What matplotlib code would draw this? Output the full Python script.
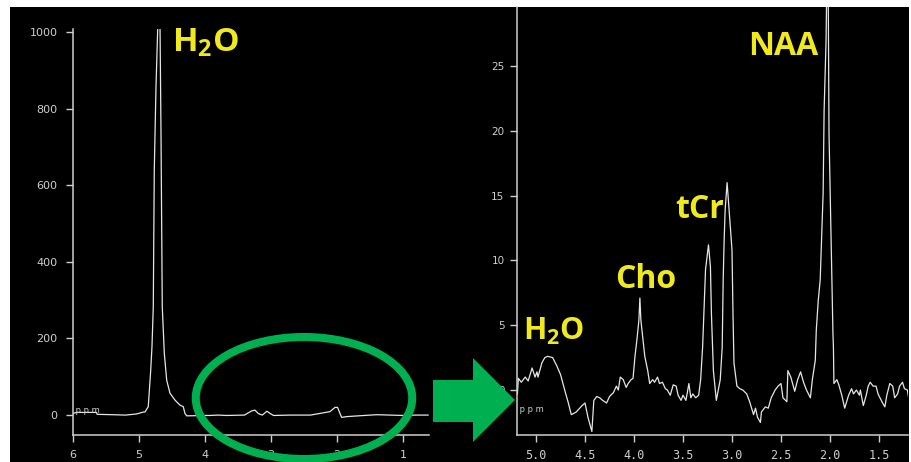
import numpy as np
import matplotlib.pyplot as plt
from matplotlib.patches import Rectangle, Ellipse, Polygon

W, H = 912, 462

# spettro completo (pannello sinistro)
ppm_full = [6.00, 5.94, 5.64, 5.63, 5.40, 5.20, 5.03, 4.93, 4.906, 4.856, 4.819, 4.800,
            4.780, 4.765, 4.739, 4.713, 4.678, 4.663, 4.644, 4.613, 4.577, 4.527, 4.451,
            4.376, 4.326, 4.300, 4.274, 4.00, 3.92, 3.80, 3.67, 3.40, 3.29, 3.24, 3.19,
            3.13, 3.06, 3.01, 2.96, 2.70, 2.40, 2.105, 2.03, 1.99, 1.953, 1.928, 1.852,
            1.677, 1.40, 1.20, 1.00, 0.80, 0.62]
int_full = [4, 7, 7, 2, 1, 0, 3, 8, 8, 22, 117, 178,
            283, 640, 857, 1010, 1014, 731, 283, 161, 91, 57, 39,
            26, 22, 4, -2, -1, -1, 0, -1, 0, 11, 13, 4,
            0, 10, 4, -1, 0, 0, 9, 20, 20, 4, -6, -4,
            -2, 1, 0, -1, 0, 0]

# zoom sui metaboliti (pannello destro)
ppm_zoom = [5.19, 5.18, 5.15, 5.11, 5.08, 5.04, 5.01, 4.99, 4.98, 4.94, 4.91, 4.88, 4.83,
            4.79, 4.75, 4.70, 4.67, 4.64, 4.59, 4.53, 4.50, 4.47, 4.43, 4.41, 4.38, 4.35,
            4.32, 4.28, 4.25, 4.21, 4.18, 4.16, 4.14, 4.11, 4.08, 4.06, 4.03, 4.01, 3.99,
            3.97, 3.95, 3.94, 3.93, 3.91, 3.89, 3.86, 3.84, 3.81, 3.79, 3.76, 3.74, 3.71,
            3.68, 3.66, 3.63, 3.60, 3.57, 3.55, 3.52, 3.50, 3.47, 3.44, 3.42, 3.40, 3.37,
            3.34, 3.32, 3.30, 3.28, 3.27, 3.25, 3.24, 3.22, 3.21, 3.19, 3.16, 3.12, 3.10,
            3.09, 3.08, 3.07, 3.05, 3.03, 3.00, 2.99, 2.98, 2.95, 2.92, 2.89, 2.85, 2.82,
            2.78, 2.76, 2.74, 2.71, 2.70, 2.66, 2.63, 2.60, 2.56, 2.53, 2.50, 2.48, 2.44,
            2.43, 2.40, 2.36, 2.33, 2.30, 2.27, 2.24, 2.20, 2.18, 2.15, 2.14, 2.12, 2.10,
            2.07, 2.06, 2.04, 2.03, 2.02, 2.01, 1.99, 1.97, 1.965, 1.96, 1.93, 1.91, 1.88,
            1.85, 1.81, 1.78, 1.76, 1.73, 1.70, 1.69, 1.66, 1.63, 1.61, 1.59, 1.56, 1.53,
            1.51, 1.47, 1.44, 1.42, 1.39, 1.36, 1.34, 1.31, 1.29, 1.26, 1.24, 1.21, 1.20]
int_zoom = [-0.3, 0.9, 0.6, 1.0, 0.7, 1.7, 1.0, 1.4, 1.0, 2.1, 2.5, 2.6, 2.5,
            1.9, 1.2, -0.2, -1.0, -1.9, -1.7, -1.2, -1.0, -2.1, -3.2, -0.8, -0.5, -0.6,
            -0.8, -1.0, -0.5, -0.2, 0.3, 0.0, 1.0, 0.8, 0.2, 0.5, 0.8, 0.9, 2.6,
            3.9, 5.4, 7.1, 5.4, 4.0, 2.6, 1.5, 0.5, 0.8, 0.6, 1.0, 0.5, 0.6,
            0.1, 0.0, -0.4, 0.4, 0.3, -0.4, -0.8, -0.4, -0.8, 0.5, -0.6, -0.3, -0.6,
            -0.4, 0.8, 3.3, 7.2, 9.3, 10.6, 11.2, 9.5, 5.9, 1.5, -0.8, 0.8, 3.3,
            8.5, 11.6, 13.9, 16.0, 13.9, 10.8, 5.9, 2.1, 0.3, 0.1, 0.0, -0.3, -0.9,
            -1.9, -1.4, -2.1, -2.5, -1.7, -1.3, -1.4, -0.6, 0.0, 0.3, 0.5, -0.6, -0.9,
            1.5, 1.0, -0.1, 0.8, 1.4, 0.6, 0.0, -0.6, 0.8, 2.3, 4.6, 6.9, 8.5,
            15.2, 21.6, 27.0, 33.0, 33.0, 19.8, 12.1, 4.4, 3.3, 0.5, 0.8, 0.4, -0.4,
            -1.4, -0.4, 0.1, -0.3, 0.0, -0.4, 0.0, -1.2, -0.4, 0.3, 0.6, 0.3, 0.3,
            -0.3, -0.9, -1.3, -0.4, 0.5, 0.3, -0.6, -0.3, 0.3, 0.6, 0.1, 0.0, -0.5]

xticks_full = [6, 5, 4, 3, 2, 1]
yticks_full = [0, 200, 400, 600, 800, 1000]
xticks_zoom = [5.0, 4.5, 4.0, 3.5, 3.0, 2.5, 2.0, 1.5]
yticks_zoom = [0, 5, 10, 15, 20, 25]

plt.rcParams['mathtext.fontset'] = 'custom'
plt.rcParams['mathtext.rm'] = 'Open Sans:bold'
plt.rcParams['mathtext.default'] = 'rm'

grey = '#cfcfcf'
yellow = '#f0ea1c'
green = '#00b050'

def fx(x):
    return x / W

def fy(y):
    return 1 - y / H

fig = plt.figure(figsize=(9.12, 4.62), dpi=100, facecolor='white')
fig.add_artist(Rectangle((fx(10), 0), fx(909) - fx(10), fy(7), transform=fig.transFigure,
                         facecolor='black', edgecolor='none', zorder=-5))

ax1 = fig.add_axes([fx(72.7), fy(435), fx(429) - fx(72.7), fy(29) - fy(435)])
ax2 = fig.add_axes([fx(517), fy(435), fx(908) - fx(517), fy(7) - fy(435)])

for ax in (ax1, ax2):
    ax.set_facecolor('none')
    ax.spines['top'].set_visible(False)
    ax.spines['right'].set_visible(False)
    ax.spines['left'].set_color(grey)
    ax.spines['bottom'].set_color(grey)
    ax.spines['left'].set_linewidth(1.1)
    ax.spines['bottom'].set_linewidth(1.1)
    ax.tick_params(colors=grey, width=1, length=5)
    ax.text(0.0, 0.06, ' p p m', transform=ax.transAxes, color=grey, fontsize=6,
            ha='left', va='center')

# pannello sinistro
ax1.plot(ppm_full, int_full, color='#e6e6e6', lw=0.9)
ax1.set_xlim(6, 0.606)
ax1.set_ylim(-52, 1008)
ax1.set_xticks(xticks_full)
ax1.set_yticks(yticks_full)
ax1.tick_params(axis='y', labelsize=8, pad=6)
ax1.tick_params(axis='x', labelsize=8, pad=6)
ax1.text(4.497, 948, r'H$_{2}$O', color=yellow, fontsize=24, fontfamily='Open Sans',
         fontweight='bold', ha='left', va='baseline')

# pannello destro
ax2.plot(ppm_zoom, int_zoom, color='#e6e6e6', lw=0.9)
ax2.set_xlim(5.194, 1.204)
ax2.set_ylim(-3.47, 29.55)
ax2.set_xticks(xticks_zoom)
ax2.set_xticklabels(['%.1f' % t for t in xticks_zoom], fontfamily='DejaVu Sans Mono')
ax2.set_yticks(yticks_zoom)
ax2.tick_params(axis='y', labelsize=7.5, pad=4)
ax2.tick_params(axis='x', labelsize=8.5, pad=5)
lab = dict(color=yellow, fontfamily='Open Sans', fontweight='bold', ha='left', va='baseline')
ax2.text(2.837, 25.85, 'NAA', fontsize=23, **lab)
ax2.text(3.582, 13.27, 'tCr', fontsize=23, **lab)
ax2.text(4.194, 7.87, 'Cho', fontsize=23, **lab)
ax2.text(5.133, 3.86, r'H$_{2}$O', fontsize=22, **lab)

# ellisse e freccia verdi
fig.add_artist(Ellipse((fx(304), fy(398)), 216.5 / W, 122 / H, transform=fig.transFigure,
                       fill=False, edgecolor=green, lw=5.8, zorder=5))
arrow = [(433, 380), (473, 380), (473, 358), (515, 400), (473, 442), (473, 422), (433, 422)]
fig.add_artist(Polygon([(fx(x), fy(y)) for x, y in arrow], closed=True, transform=fig.transFigure,
                       facecolor=green, edgecolor='none', zorder=5))

fig.savefig('out.png', dpi=100, facecolor='white')
